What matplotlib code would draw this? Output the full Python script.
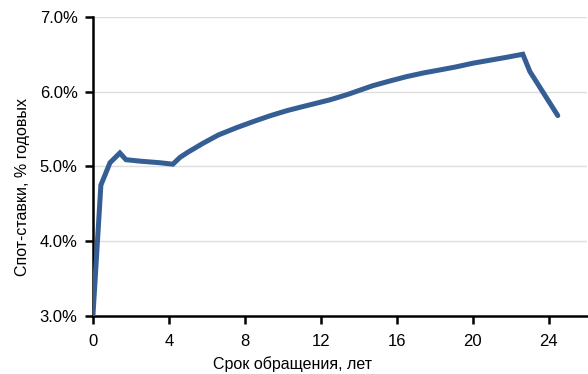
import matplotlib
matplotlib.use("Agg")
import matplotlib.pyplot as plt
from matplotlib.ticker import FuncFormatter

plt.rcParams["font.family"] = ["Liberation Sans", "DejaVu Sans"]

# Кривая спот-ставок (срок в годах, ставка в % годовых)
srok = [0.0, 0.42, 0.9, 1.42, 1.74, 2.5, 3.5, 4.21, 4.58, 5.0, 5.8, 6.6, 7.58,
        8.5, 9.3, 10.2, 11.05, 12.0, 12.47, 13.0, 13.5, 14.74, 15.6, 16.5,
        17.4, 18.26, 19.1, 20.0, 20.9, 21.8, 22.63, 23.0, 24.47]
stavka = [3.0, 4.75, 5.05, 5.18, 5.09, 5.07, 5.05, 5.03, 5.12, 5.19, 5.31, 5.42,
          5.52, 5.605, 5.675, 5.745, 5.80, 5.86, 5.89, 5.93, 5.97, 6.08, 6.14, 6.20,
          6.25, 6.29, 6.33, 6.38, 6.42, 6.46, 6.50, 6.27, 5.68]

x_ticks = [0, 4, 8, 12, 16, 20, 24]
y_ticks = [3.0, 4.0, 5.0, 6.0, 7.0]

COR_LINHA = "#355E95"

fig = plt.figure(figsize=(5.88, 3.74), dpi=100)
ax = fig.add_axes([0.158, 0.155, 0.84, 0.80])

for y in y_ticks[1:]:
    ax.axhline(y, color="#DDDDDD", linewidth=1, zorder=0)

ax.plot(srok, stavka, color=COR_LINHA, linewidth=3.6,
        solid_capstyle="round", solid_joinstyle="miter", zorder=3)

ax.set_xlim(0, 26)
ax.set_ylim(3.0, 7.0)
ax.set_xticks(x_ticks)
ax.set_yticks(y_ticks)
ax.yaxis.set_major_formatter(FuncFormatter(lambda v, _: f"{v:.1f}%"))

for side in ("top", "right"):
    ax.spines[side].set_visible(False)
for side in ("left", "bottom"):
    ax.spines[side].set_linewidth(1.8)
    ax.spines[side].set_color("black")

ax.tick_params(axis="both", direction="out", length=6, width=1.8,
               labelsize=12, colors="black", pad=5)
ax.tick_params(axis="x", pad=7)

ax.set_xlabel("Срок обращения, лет", fontsize=11.5)
ax.set_ylabel("Спот-ставки, % годовых", fontsize=11.5)
# подписи осей смещены как в оригинале
ax.xaxis.set_label_coords(0.405, -0.135)
ax.yaxis.set_label_coords(-0.127, 0.43)

fig.savefig("out.png", dpi=100)
